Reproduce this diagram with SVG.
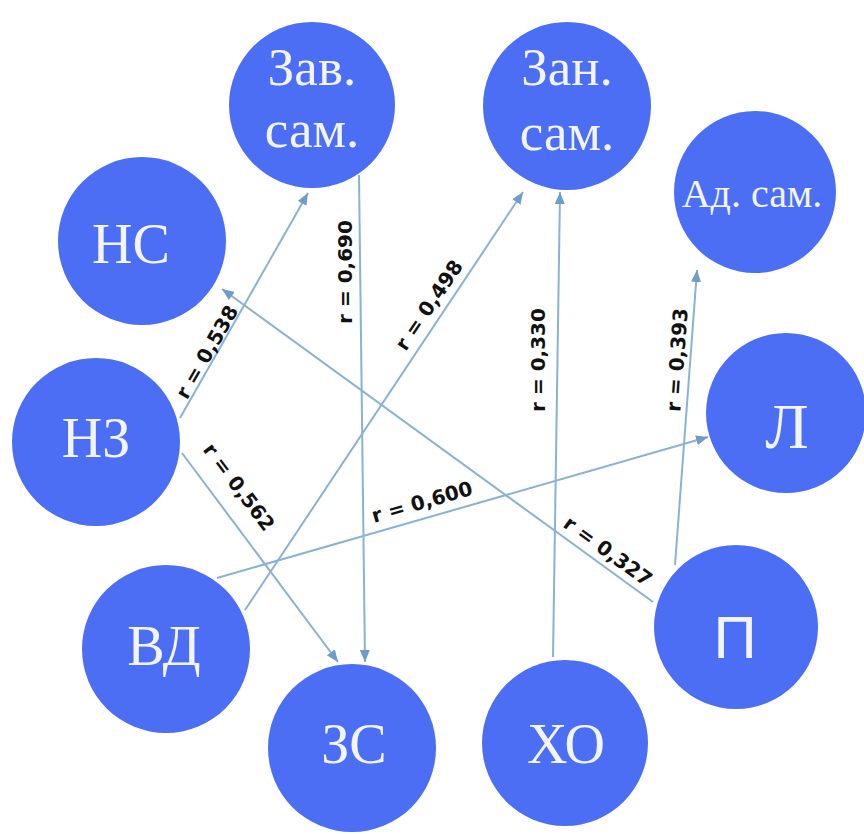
<svg xmlns="http://www.w3.org/2000/svg" width="864" height="834" viewBox="0 0 864 834">
<defs>
<marker id="arr" viewBox="0 0 12 10" refX="12" refY="5" markerWidth="12" markerHeight="10" markerUnits="userSpaceOnUse" orient="auto">
<path d="M0,0 L12,5 L0,10 Z" fill="#6F9DC7"/>
</marker>
<style>
.node{fill:#4C6EF5}
.lbl{font-family:"Liberation Serif","DejaVu Serif",serif;fill:#F2F5FF;text-anchor:middle}
.edge{stroke:#8AB2D2;stroke-width:2;fill:none;marker-end:url(#arr)}
.r{font-family:"DejaVu Sans","Liberation Sans",sans-serif;font-weight:bold;font-size:20px;fill:#111;text-anchor:middle;dominant-baseline:central}
</style>
</defs>
<rect width="864" height="834" fill="#fff"/>
<g id="connectors">
<line class="edge" x1="180" y1="418" x2="308" y2="193"/>
<line class="edge" x1="182" y1="453" x2="338" y2="662"/>
<line class="edge" x1="359" y1="175" x2="365" y2="662"/>
<line class="edge" x1="245" y1="610" x2="523" y2="192"/>
<line class="edge" x1="553" y1="657" x2="560" y2="192"/>
<line class="edge" x1="653" y1="602" x2="222" y2="289"/>
<line class="edge" x1="217" y1="578" x2="708" y2="437"/>
<line class="edge" x1="675" y1="565" x2="697" y2="270"/>
<text class="r" transform="translate(207,352) rotate(-60)">r = 0,538</text>
<text class="r" transform="translate(239,487) rotate(53)">r = 0,562</text>
<text class="r" transform="translate(345,272) rotate(-90)">r = 0,690</text>
<text class="r" transform="translate(429,305) rotate(-56)">r = 0,498</text>
<text class="r" transform="translate(538,360) rotate(-90)">r = 0,330</text>
<text class="r" transform="translate(677,360) rotate(-86)">r = 0,393</text>
<text class="r" transform="translate(608,551) rotate(36)">r = 0,327</text>
<text class="r" transform="translate(422,502) rotate(-16)">r = 0,600</text>
</g>
<g id="zav">
<circle class="node" cx="312" cy="105" r="83"/>
<text class="lbl" x="312" y="85" font-size="53">Зав.</text>
<text class="lbl" x="312" y="147" font-size="53">сам.</text>
</g>
<g id="zan">
<circle class="node" cx="567" cy="106" r="84"/>
<text class="lbl" x="567" y="85" font-size="53">Зан.</text>
<text class="lbl" x="567" y="150" font-size="53">сам.</text>
</g>
<g id="ad">
<circle class="node" cx="755" cy="192" r="81"/>
<text class="lbl" x="752" y="207" font-size="40">Ад. сам.</text>
</g>
<g id="ns">
<circle class="node" cx="142" cy="241" r="84"/>
<text class="lbl" x="131" y="263" font-size="56">НС</text>
</g>
<g id="nz">
<circle class="node" cx="96" cy="442" r="84"/>
<text class="lbl" x="96" y="457" font-size="56">НЗ</text>
</g>
<g id="vd">
<circle class="node" cx="166" cy="649" r="84"/>
<text class="lbl" x="164" y="665" font-size="56">ВД</text>
</g>
<g id="zs">
<circle class="node" cx="352" cy="748" r="84"/>
<text class="lbl" x="354" y="763" font-size="56">ЗС</text>
</g>
<g id="ho">
<circle class="node" cx="565" cy="743" r="83"/>
<text class="lbl" x="566" y="763" font-size="56">ХО</text>
</g>
<g id="l">
<circle class="node" cx="786" cy="413" r="80"/>
<text class="lbl" x="787" y="448" font-size="64">Л</text>
</g>
<g id="p">
<circle class="node" cx="736" cy="627" r="82"/>
<text x="735" y="658" font-family="Liberation Sans, DejaVu Sans, sans-serif" font-size="60" fill="#F2F5FF" text-anchor="middle">П</text>
</g>
</svg>
